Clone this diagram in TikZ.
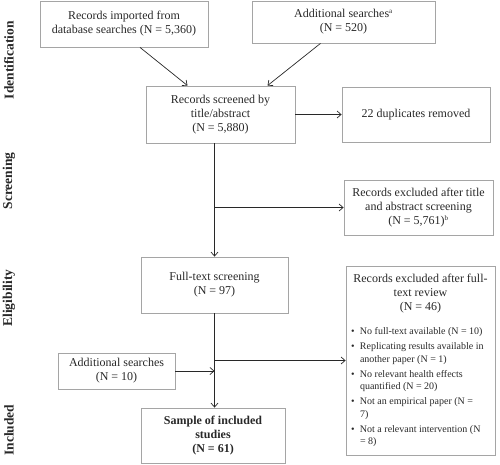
\documentclass[tikz,border=0pt]{standalone}
\usepackage{fontspec}
\setmainfont{Liberation Serif}
\usepackage{tikz}
\usetikzlibrary{calc,arrows.meta}

\definecolor{boxgray}{RGB}{165,165,165}
\definecolor{txtgray}{RGB}{40,40,40}

\newcommand{\blt}{\hangindent=9pt\hangafter=1\noindent\makebox[9pt][l]{\textbullet}}

\begin{document}
\begin{tikzpicture}[x=1pt, y=-1pt,
    box/.style={draw=boxgray, line width=0.8pt, align=center, inner sep=2pt,
      text=txtgray, font=\fontsize{12}{14}\selectfont},
    phase/.style={rotate=90, text=txtgray, font=\fontsize{13.5}{16}\selectfont\bfseries},
    flow/.style={-{Straight Barb[length=4pt,width=7pt]}, line width=0.7pt, draw=txtgray}]
  \useasboundingbox (0,0) rectangle (500,464);

  % phases
  \node[phase] (ident) at (9, 60) {Identification};
  \node[phase] (screen) at (9, 181) {Screening};
  \node[phase] (elig) at (9, 298) {Eligibility};
  \node[phase] (incl) at (9, 430) {Included};

  % boxes
  \node[box, minimum width=168pt, minimum height=46pt] (db) at (124, 24)
    {Records imported from\\database searches (N = 5,360)};
  \node[box, minimum width=183pt, minimum height=42pt] (add1) at (343.5, 22)
    {Additional searches\textsuperscript{\scriptsize a}\\(N = 520)};
  \node[box, minimum width=149pt, minimum height=57pt] (scr) at (220.5, 114.5)
    {Records screened by\\title/abstract\\(N = 5,880)};
  \node[box, minimum width=148pt, minimum height=55pt] (dup) at (416, 114.5)
    {22 duplicates removed};
  \node[box, minimum width=149pt, minimum height=55pt] (excl) at (418.5, 207.5)
    {Records excluded after title\\and abstract screening\\(N = 5,761)\textsuperscript{\scriptsize b}};
  \node[box, minimum width=147pt, minimum height=56pt] (full) at (214.5, 285)
    {Full-text screening\\(N = 97)};
  \node[box, minimum width=149pt, minimum height=189pt, inner sep=0pt] (rev) at (420.5, 360.5)
    {\parbox{139pt}{\centering
      Records excluded after full-\\text review\\(N = 46)\par
      \vspace{9pt}
      \raggedright\fontsize{10}{12.5}\selectfont\setlength{\parskip}{2.5pt}
      \blt No full-text available (N = 10)\par
      \blt Replicating results available in\newline another paper (N = 1)\par
      \blt No relevant health effects\newline quantified (N = 20)\par
      \blt Not an empirical paper (N =\newline 7)\par
      \blt Not a relevant intervention (N\newline = 8)\par}};
  \node[box, minimum width=117pt, minimum height=36pt] (add2) at (116.5, 371)
    {Additional searches\\(N = 10)};
  \node[box, minimum width=144pt, minimum height=55pt, font=\fontsize{12}{14}\selectfont\bfseries] (smp) at (213, 435.5)
    {Sample of included\\studies\\(N = 61)};

  % connectors
  \draw[flow] ([xshift=16pt]db.south) -- ([xshift=-33pt]scr.north);
  \draw[flow] ([xshift=-23pt]add1.south) -- ([xshift=47pt]scr.north);
  \draw[flow] (scr.east) -- (dup.west);
  \draw[flow] (scr.south -| full.north) -- (full.north);
  \draw[flow] (excl.west -| full.north) -- (excl.west);
  \draw[flow] (full.south) -- (full.south |- smp.north);
  \draw[flow] (rev.west -| full.south) -- (rev.west);
  \draw[flow] (add2.east) -- (add2.east -| full.south);
\end{tikzpicture}
\end{document}
